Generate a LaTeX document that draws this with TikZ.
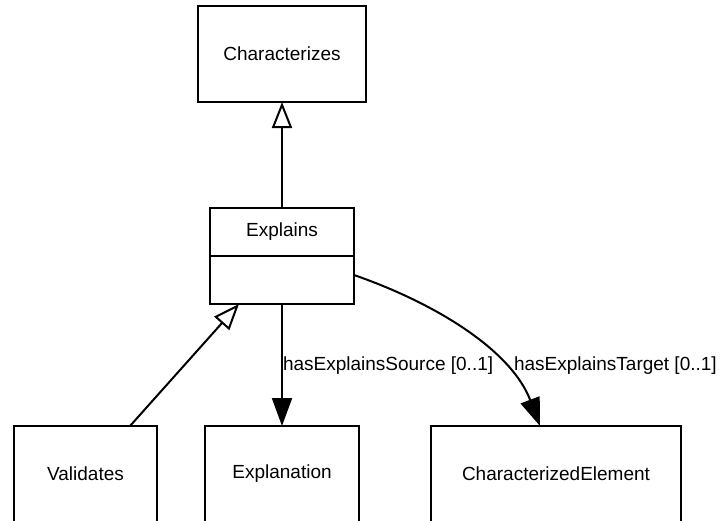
\documentclass[tikz,border=0pt]{standalone}
\usepackage{fontspec}
\setmainfont{Liberation Sans}
\usetikzlibrary{arrows.meta,calc}
\begin{document}
\begin{tikzpicture}[x=1pt,y=-1pt,line width=2pt,
  font=\fontsize{19}{23}\selectfont,
  umlbox/.style={draw,line width=2pt,inner sep=0pt,outer sep=0pt},
  gen/.style={-{Triangle[open,length=26pt,width=20pt,line width=2pt]}},
  assoc/.style={-{Triangle[length=28pt,width=20pt]}},
  lbl/.style={inner sep=0pt,anchor=base west}]
\useasboundingbox (0,0) rectangle (720,520);
\clip (0,0) rectangle (720,520);
\node[umlbox,minimum width=168pt,minimum height=96pt] (char) at (282,54) {Characterizes};
\node[umlbox,minimum width=144pt,minimum height=48pt] (expl) at (282,232) {Explains};
\node[umlbox,minimum width=144pt,minimum height=48pt] (explbody) at (282,280) {};
\node[umlbox,minimum width=143pt,minimum height=96pt] (valid) at (85.5,474) {Validates};
\node[umlbox,minimum width=154pt,minimum height=96pt] (explan) at (282,474) {Explanation};
\node[umlbox,minimum width=250pt,minimum height=96pt] (charel) at (556,474) {CharacterizedElement};
\draw[gen] (expl.north) -- (char.south);
\draw[gen] ($(valid.north)+(44.5,0)$) -- ($(explbody.south)+(-43,0)$);
\draw[assoc] (explbody.south) -- (explan.north);
\draw[assoc] ($(explbody.east)+(0,-5)$) .. controls (440,305) and (512,352) .. ($(charel.north)+(-16,0)$);
\node[lbl] (srclbl) at (282,370) {hasExplainsSource [0..1]};
\node[lbl] (tgtlbl) at (513,370) {hasExplainsTarget [0..1]};
\end{tikzpicture}
\end{document}
